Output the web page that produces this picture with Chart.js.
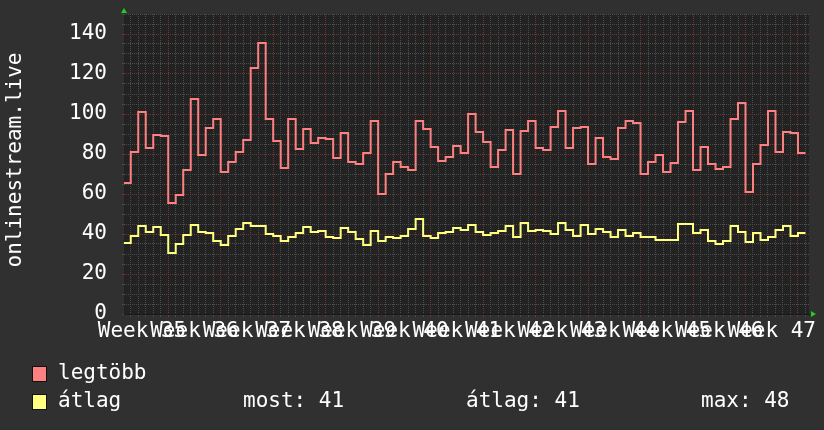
<!DOCTYPE html>
<html>
<head>
<meta charset="utf-8">
<script src="https://cdn.jsdelivr.net/npm/chart.js@4/dist/chart.umd.min.js"></script>
<style>
    html, body { margin: 0; padding: 0; background: #303030; }
    #wrap { position: relative; width: 824px; height: 430px; overflow: hidden; }
    canvas { position: absolute; left: 0; top: 0; }
    .leg { position: absolute; color: #ffffff; font: 21px "DejaVu Sans Mono", monospace; line-height: 24px; white-space: pre; }
    .box { position: absolute; width: 13px; height: 14px; border: 1px solid #111; }
    #ytitle { position: absolute; left: 14px; top: 160px; width: 300px; margin-left: -150px; margin-top: -12px;
        text-align: center; transform: rotate(-90deg); }
</style>
</head>
<body>
<div id="wrap">
    <canvas id="chart_stream" width="824" height="430"></canvas>
    <div class="leg" id="ytitle">onlinestream.live</div>
    <div class="box" style="left:32px;top:366px;background:#ff8080"></div>
    <div class="leg" style="left:58px;top:360px">legtöbb</div>
    <div class="box" style="left:32px;top:394px;background:#ffff80"></div>
    <div class="leg" style="left:58px;top:388px">átlag</div>
    <div class="leg" style="left:243px;top:388px">most: 41</div>
    <div class="leg" style="left:466px;top:388px">átlag: 41</div>
    <div class="leg" style="left:701px;top:388px">max: 48</div>
</div>
<script>

// napi ertekek, 1. nap = week 35 hetfo
var legtobb = [
    65.5, 81, 101, 83, 89.5, 89, 55.5, 59.5, 72, 107.5, 79.5, 93, 97.5, 71,
    76, 81, 87, 123, 135.5, 97.5, 86.5, 73, 97.5, 82.5, 92.5, 85.5, 88, 87.5,
    78, 90.5, 76, 75, 80.5, 96.5, 60, 70, 76, 73.5, 72, 96.5, 92.5, 83.5,
    76.5, 78.5, 84, 80.5, 100, 91, 86, 73.5, 82, 92, 70, 91.5, 96.5, 83,
    82, 93.5, 101.5, 83, 93, 93.5, 75, 88, 78.5, 77.5, 93, 96.5, 95.5, 70,
    76, 79.5, 71, 75.5, 96, 101.5, 72, 83.5, 75, 72.5, 73.5, 97.5, 105.5, 61,
    75, 84.5, 101.5, 81, 91, 90.5, 80.5
];
var atlag = [
    35.5, 39, 44, 41, 43.5, 39.5, 30.5, 35, 39.5, 44.5, 41, 40.5, 36.5, 34.5,
    39, 42.5, 45.5, 44, 44, 40, 39, 36.5, 38.5, 40.5, 43.5, 41, 41.5, 38.5,
    38, 43, 41, 37.5, 34.5, 41.5, 36.5, 38.5, 38, 39, 42.5, 47.5, 39, 38,
    40.5, 41, 43, 42, 44.5, 41, 39.5, 40.5, 41.5, 44, 38.5, 45.5, 41.5, 42,
    41.5, 40, 45.5, 42, 39, 44.5, 40, 42.5, 41, 38.5, 42, 39, 40.5, 38.5,
    38.5, 37, 37, 37, 45, 45, 40.5, 42, 36.5, 35, 36.5, 44, 41, 36,
    40.5, 37, 38.5, 42, 44, 39, 40.5
];
var weekLabels = ['Week 35','Week 36','Week 37','Week 38','Week 39','Week 40','Week 41',
    'Week 42','Week 43','Week 44','Week 45','Week 46','Week 47'];
var yLabels = [0, 20, 40, 60, 80, 100, 120, 140];

var FONT = '"DejaVu Sans Mono", monospace';
var C_MAJOR = '#763434';
var C_MINOR = '#4c4c4c';

function toSteps(arr) {
    let pts = arr.map((v, i) => ({ x: i + 1, y: v }));
    pts.push({ x: arr.length + 1, y: arr[arr.length - 1] });
    return pts;
}

// a tengelyek ne tegyenek hozza plusz helyet
function noPad(s) {
    s.paddingTop = 0;
    s.paddingBottom = 0;
    s.paddingLeft = 0;
    s.paddingRight = 0;
}

var rrdDecor = {
    id: 'rrdDecor',
    beforeDraw(chart) {
        let a = chart.chartArea, ctx = chart.ctx;
        ctx.save();
        ctx.fillStyle = '#222222';
        ctx.fillRect(a.left, a.top, a.right - a.left, a.bottom - a.top);
        ctx.restore();
    },
    afterDraw(chart) {
        let a = chart.chartArea, ctx = chart.ctx;
        ctx.save();
        ctx.fillStyle = '#22cc22';
        ctx.beginPath();
        ctx.moveTo(a.left - 3, a.top - 1);
        ctx.lineTo(a.left + 3, a.top - 1);
        ctx.lineTo(a.left, a.top - 6);
        ctx.closePath();
        ctx.fill();
        ctx.beginPath();
        ctx.moveTo(a.right + 2, a.bottom - 3);
        ctx.lineTo(a.right + 2, a.bottom + 3);
        ctx.lineTo(a.right + 7, a.bottom);
        ctx.closePath();
        ctx.fill();
        ctx.restore();
    }
};

function drawChart() {
    new Chart(document.getElementById('chart_stream').getContext('2d'), {
        type: 'line',
        data: {
            datasets: [
                {
                    label: 'legtöbb',
                    data: toSteps(legtobb),
                    borderColor: '#ff8080',
                    borderWidth: 2,
                    stepped: 'before',
                    pointRadius: 0,
                    fill: false,
                    borderJoinStyle: 'miter'
                },
                {
                    label: 'átlag',
                    data: toSteps(atlag),
                    borderColor: '#ffff80',
                    borderWidth: 2,
                    stepped: 'before',
                    pointRadius: 0,
                    fill: false,
                    borderJoinStyle: 'miter'
                }
            ]
        },
        options: {
            responsive: false,
            animation: false,
            layout: { padding: { top: 14, right: 15, left: 0, bottom: 0 } },
            plugins: {
                legend: { display: false },
                tooltip: { enabled: false }
            },
            scales: {
                x: {
                    type: 'linear',
                    min: 1.1,
                    max: 92.47,
                    afterFit: (s) => { s.height = 116; noPad(s); },
                    afterBuildTicks: (s) => {
                        let t = [];
                        for (let d = 2; d <= 92; d++) t.push({ value: d });
                        weekLabels.forEach((w, k) => t.push({ value: 3.5 + 7 * k }));
                        t.sort((p, q) => p.value - q.value);
                        s.ticks = t;
                    },
                    ticks: {
                        autoSkip: false,
                        maxRotation: 0,
                        color: '#ffffff',
                        padding: 2,
                        font: { family: FONT, size: 21 },
                        callback: (v) => {
                            let k = (v - 3.5) / 7;
                            return Number.isInteger(k) ? weekLabels[k] : '';
                        }
                    },
                    grid: {
                        color: (c) => {
                            let v = c.tick.value;
                            if (!Number.isInteger(v)) return 'rgba(0,0,0,0)';
                            return v % 7 === 0 ? C_MAJOR : C_MINOR;
                        },
                        tickLength: 3,
                        lineWidth: 1
                    },
                    border: { display: true, color: '#1a1a1a', dash: [1, 1] }
                },
                y: {
                    min: 0,
                    max: 150,
                    afterFit: (s) => { s.width = 124; noPad(s); },
                    afterBuildTicks: (s) => {
                        let t = [];
                        for (let v = 0; v <= 150; v += 5) t.push({ value: v });
                        s.ticks = t;
                    },
                    ticks: {
                        autoSkip: false,
                        color: '#ffffff',
                        padding: 15,
                        font: { family: FONT, size: 21 },
                        callback: (v) => yLabels.indexOf(v) >= 0 ? String(v) : ''
                    },
                    grid: {
                        color: (c) => c.tick.value % 20 === 0 && c.tick.value < 150 ? C_MAJOR : C_MINOR,
                        tickLength: 2,
                        lineWidth: 1
                    },
                    border: { display: false, dash: [1, 1] }
                }
            }
        },
        plugins: [rrdDecor]
    });
}

drawChart();

</script>
</body>
</html>
